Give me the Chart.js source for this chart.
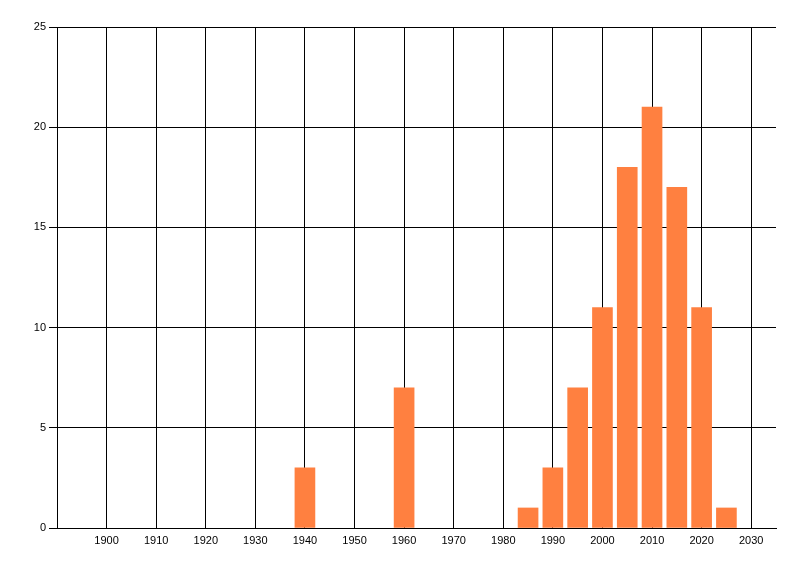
<!DOCTYPE html>
<html>
<head>
<meta charset="utf-8">
<script src="https://cdn.jsdelivr.net/npm/chart.js@4/dist/chart.umd.min.js"></script>
<style>
html,body{margin:0;padding:0;background:#fff;}
#wrap{width:800px;height:576px;}
</style>
</head>
<body>
<div id="wrap"><canvas id="c" width="800" height="576"></canvas></div>
<script>
const years = [1940, 1960, 1985, 1990, 1995, 2000, 2005, 2010, 2015, 2020, 2025];
const counts = [3, 7, 1, 3, 7, 11, 18, 21, 17, 11, 1];
const xTickValues = [1900, 1910, 1920, 1930, 1940, 1950, 1960, 1970, 1980, 1990, 2000, 2010, 2020, 2030];
const yTickValues = [0, 5, 10, 15, 20, 25];

Chart.defaults.font.family = "'Liberation Sans', Arial, sans-serif";
Chart.defaults.font.size = 11;
Chart.defaults.color = '#000';

new Chart(document.getElementById('c'), {
  type: 'bar',
  data: {
    datasets: [{
      data: years.map((y, i) => ({x: y, y: counts[i]})),
      backgroundColor: '#FF8040',
      borderWidth: 0,
      barThickness: 20
    }]
  },
  options: {
    responsive: false,
    devicePixelRatio: 1,
    animation: false,
    layout: {padding: {top: 27, right: 24, left: 0, bottom: 0}},
    plugins: {legend: {display: false}, tooltip: {enabled: false}},
    scales: {
      x: {
        type: 'linear',
        min: 1890,
        max: 2035,
        offset: false,
        afterBuildTicks: s => { s.ticks = xTickValues.map(v => ({value: v})); },
        afterFit: s => { s.height = 48; },
        ticks: {padding: 6, maxRotation: 0, autoSkip: false, callback: v => String(v)},
        grid: {color: '#000', lineWidth: 1, drawTicks: false, offset: false},
        border: {color: '#000', width: 1}
      },
      y: {
        min: 0,
        max: 25,
        afterBuildTicks: s => { s.ticks = yTickValues.map(v => ({value: v})); },
        afterFit: s => { s.width = 57; },
        ticks: {padding: 3},
        grid: {color: '#000', lineWidth: 1, drawTicks: true, tickLength: 8},
        border: {color: '#000', width: 1}
      }
    }
  }
});
</script>
</body>
</html>
